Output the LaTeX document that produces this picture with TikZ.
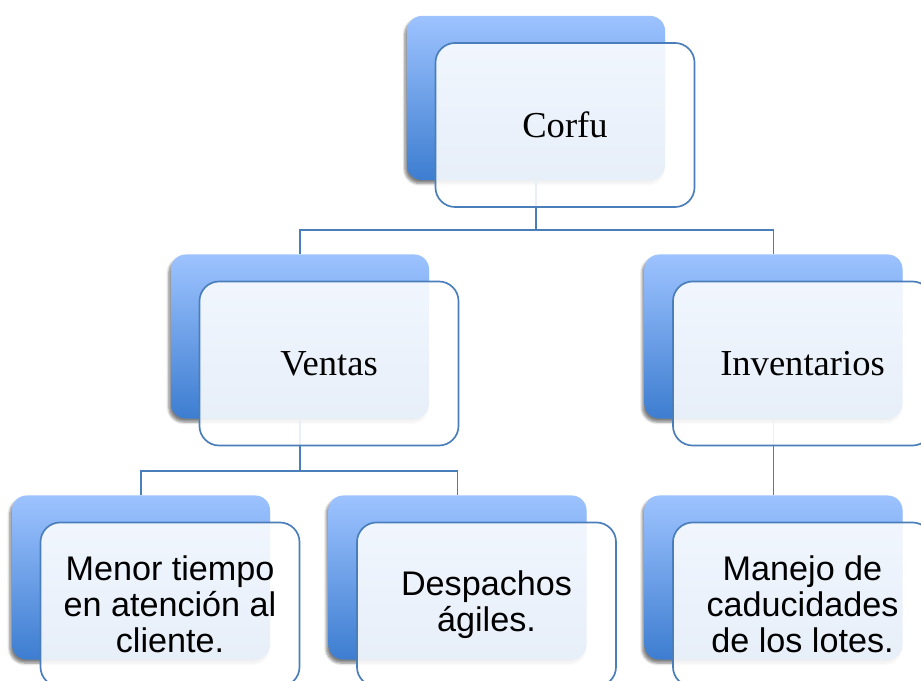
\documentclass[tikz,border=0pt]{standalone}
\usepackage{fontspec}
\setmainfont{Liberation Serif}
\setsansfont{Liberation Sans}
\usetikzlibrary{shadows.blur}
\definecolor{backtop}{HTML}{9DC3FF}
\definecolor{backbot}{HTML}{3D7DD0}
\definecolor{linkblue}{HTML}{4A7EBB}

\tikzset{
  backbox/.style={rectangle, rounded corners=10.5pt, minimum width=6.45cm,
    minimum height=4.1cm, top color=backtop, bottom color=backbot,
    blur shadow={shadow xshift=-1.5pt, shadow yshift=-2.5pt,
      shadow blur steps=6, shadow opacity=50}},
  frontbox/.style={rectangle, rounded corners=14pt, minimum width=6.475cm,
    minimum height=4.1cm, draw=linkblue, line width=1.2pt, fill=white,
    fill opacity=.88, text opacity=1, align=center},
  headtext/.style={font=\fontsize{26}{30}\selectfont},
  leaftext/.style={font=\sffamily\fontsize{24.3}{25.8}\selectfont},
  link/.style={draw=linkblue, line width=1.2pt}
}

\begin{document}
\begin{tikzpicture}[x=0.025cm, y=-0.025cm]
  \useasboundingbox (0,0) rectangle (921,681);

  \node (corfuB) [backbox] at (536,98) {};
  \node (ventasB) [backbox] at (300,336.5) {};
  \node (inventB) [backbox] at (773.5,336.5) {};
  \node (menorB) [backbox] at (141,577.5) {};
  \node (despB) [backbox] at (457.5,577.5) {};
  \node (manejoB) [backbox] at (773.5,577.5) {};

  \path (corfuB.south) +(0,50) coordinate (corfubus);
  \draw[link] (corfuB.south) -- (corfubus) -| (ventasB.north);
  \draw[link] (corfubus) -| (inventB.north);
  \path (ventasB.south) +(0,52) coordinate (ventasbus);
  \draw[link] (ventasB.south) -- (ventasbus) -| (menorB.north);
  \draw[link] (ventasbus) -| (despB.north);
  \draw[link] (inventB.south) -- (manejoB.north);

  \path (corfuB.center) ++(29,27) node (corfu) [frontbox,headtext] {Corfu};
  \path (ventasB.center) ++(29,27) node (ventas) [frontbox,headtext] {Ventas};
  \path (inventB.center) ++(29,27) node (invent) [frontbox,headtext] {Inventarios};
  \path (menorB.center) ++(29,27)
    node (menor) [frontbox,leaftext] {Menor tiempo\\en atención al\\cliente.};
  \path (despB.center) ++(29,27)
    node (desp) [frontbox,leaftext] {Despachos\\ágiles.};
  \path (manejoB.center) ++(29,27)
    node (manejo) [frontbox,leaftext] {Manejo de\\caducidades\\de los lotes.};
\end{tikzpicture}
\end{document}
